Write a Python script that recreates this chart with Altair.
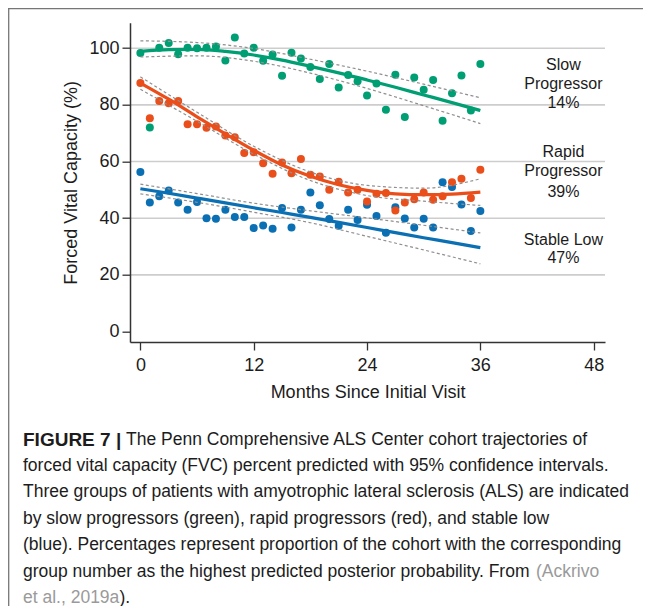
import altair as alt
import pandas as pd

# ---------------- data ----------------
months = list(range(37))
slow_fvc = [98.3, 72.0, 100.2, 101.8, 97.9, 100.2, 100.0, 100.2, 100.6, 95.7, 103.8, 98.1,
            100.2, 95.6, 97.8, 90.3, 98.4, 96.4, 93.4, 89.1, 94.4, 86.1, 90.5, 88.3, 83.3,
            87.5, 78.3, 90.6, 75.7, 89.7, 85.3, 88.8, 74.4, 84.1, 90.4, 78.0, 94.4]
rapid_fvc = [87.7, 75.3, 81.4, 80.6, 81.4, 73.2, 73.2, 71.9, 72.4, 69.2, 68.6, 63.0, 63.3,
             59.4, 55.7, 59.7, 55.9, 60.9, 55.3, 54.7, 50.0, 52.9, 49.1, 50.0, 45.9, 48.6,
             48.9, 42.7, 45.5, 46.7, 49.1, 46.5, 47.7, 52.7, 53.9, 47.1, 57.1]
stable_fvc = [56.3, 45.5, 47.7, 49.8, 45.5, 43.0, 45.7, 40.0, 39.8, 43.0, 40.4, 40.4, 36.5,
              37.4, 36.3, 43.6, 36.7, 43.0, 49.1, 44.6, 39.7, 37.3, 43.0, 39.4, 44.7, 40.8,
              34.9, 43.9, 39.9, 36.7, 39.8, 36.7, 52.7, 51.0, 44.8, 35.5, 42.5]

fit_months = [0, 3, 6, 9, 12, 15, 18, 21, 24, 27, 30, 33, 36]
slow_fit = [98.9, 99.5, 99.6, 98.9, 97.6, 95.8, 93.6, 91.3, 88.8, 86.2, 83.5, 80.8, 78.0]
rapid_fit = [87.7, 82.0, 75.8, 69.8, 64.0, 58.8, 54.8, 51.8, 49.8, 48.6, 48.3, 48.5, 49.2]
stable_fit = [50.4, 48.8, 47.1, 45.4, 43.7, 42.0, 40.3, 38.5, 36.7, 34.9, 33.1, 31.4, 29.6]

ci_months = [0, 6, 12, 18, 24, 30, 36]
slow_upper = [102.6, 102.0, 99.9, 96.1, 91.9, 87.3, 82.5]
slow_lower = [96.9, 97.3, 95.4, 91.2, 85.8, 79.7, 73.4]
rapid_upper = [89.9, 77.4, 65.4, 56.3, 51.6, 50.6, 53.9]
rapid_lower = [85.5, 74.2, 62.6, 53.3, 48.0, 46.0, 44.5]
stable_upper = [52.0, 48.7, 45.3, 42.6, 40.1, 37.5, 34.8]
stable_lower = [48.6, 45.6, 42.1, 38.4, 33.6, 28.8, 23.9]

group_names = ["Stable Low", "Rapid Progressor", "Slow Progressor"]
group_colors = ["#0A6FB3", "#E94E1B", "#009E73"]

x_ticks = [0, 12, 24, 36, 48]
y_ticks = [0, 20, 40, 60, 80, 100]
grid_values = [20, 40, 60, 80, 100]

label_lines = ["Slow", "Progressor", "14%", "Rapid", "Progressor", "39%", "Stable Low", "47%"]
label_values = [94.1, 87.5, 80.8, 63.5, 56.8, 49.4, 32.4, 25.9]
label_month = 44.8

caption_segments = [
    # (line index, text, page-x anchor, bold, grey, font size)
    (0, "FIGURE 7 |", 23, True, False, 19),
    (0, "The Penn Comprehensive ALS Center cohort trajectories of", 126, False, False, 17.5),
    (1, "forced vital capacity (FVC) percent predicted with 95% confidence intervals.", 23, False, False, 17.5),
    (2, "Three groups of patients with amyotrophic lateral sclerosis (ALS) are indicated", 23, False, False, 17.5),
    (3, "by slow progressors (green), rapid progressors (red), and stable low", 23, False, False, 17.5),
    (4, "(blue). Percentages represent proportion of the cohort with the corresponding", 23, False, False, 17.5),
    (5, "group number as the highest predicted posterior probability. From", 23, False, False, 17.5),
    (5, "(Ackrivo", 536, False, True, 17.5),
    (6, "et al., 2019a", 23, False, True, 17.5),
    (6, ").", 119.5, False, False, 17.5),
]

# ---------------- layout ----------------
PLOT_LEFT, PLOT_TOP = 130, 22.7          # page coordinates of plot area
W, H = 475, 319.3
SVG_W, SVG_H = 635, 598
PAD = {"left": PLOT_LEFT - 8, "top": PLOT_TOP - 8, "right": SVG_W - (PLOT_LEFT - 8) - W,
       "bottom": SVG_H - (PLOT_TOP - 8) - H}
FONT = "Liberation Sans"
TXT = "#1c1c1c"

# ---------------- tables ----------------
pts = pd.DataFrame({
    "month": months * 3,
    "value": stable_fvc + rapid_fvc + slow_fvc,
    "group": ["Stable Low"] * 37 + ["Rapid Progressor"] * 37 + ["Slow Progressor"] * 37,
    "grp_order": [0] * 37 + [1] * 37 + [2] * 37,
})
fits = pd.DataFrame({
    "month": fit_months * 3,
    "value": stable_fit + rapid_fit + slow_fit,
    "group": ["Stable Low"] * 13 + ["Rapid Progressor"] * 13 + ["Slow Progressor"] * 13,
})
ci_rows = []
for g, up, lo in [("Stable Low", stable_upper, stable_lower),
                  ("Rapid Progressor", rapid_upper, rapid_lower),
                  ("Slow Progressor", slow_upper, slow_lower)]:
    for m, u, l in zip(ci_months, up, lo):
        ci_rows.append({"month": m, "value": u, "series": g + " upper"})
        ci_rows.append({"month": m, "value": l, "series": g + " lower"})
ci = pd.DataFrame(ci_rows)
grid = pd.DataFrame({"value": grid_values})
labels = pd.DataFrame({"month": [label_month] * len(label_lines), "value": label_values,
                       "text": label_lines})
one_row = pd.DataFrame({"k": [0]})

# ---------------- encodings ----------------
x_enc = alt.X("month:Q",
              scale=alt.Scale(domain=[-1.1, 49.2], nice=False, zero=False),
              axis=alt.Axis(values=x_ticks, grid=False, title="Months Since Initial Visit",
                            domainColor="#333", domainWidth=1.5, tickColor="#333",
                            tickSize=8, tickWidth=1.3, labelFont=FONT, labelFontSize=18,
                            labelColor=TXT, labelPadding=15, labelBaseline="middle",
                            labelFlush=False, titleFont=FONT, titleFontSize=18,
                            titleFontWeight="normal", titleColor=TXT, titleY=50,
                            titleBaseline="middle", zindex=1))
y_enc = alt.Y("value:Q",
              scale=alt.Scale(domain=[-3.7, 109], nice=False, zero=False),
              axis=alt.Axis(values=y_ticks, grid=False, title="Forced Vital Capacity (%)",
                            domainColor="#333", domainWidth=1.5, tickColor="#333",
                            tickSize=8, tickWidth=1.3, labelFont=FONT, labelFontSize=18,
                            labelColor=TXT, labelPadding=3, labelFlush=False,
                            titleFont=FONT, titleFontSize=18, titleFontWeight="normal",
                            titleColor=TXT, titleX=-58.3, titleY=H / 2, titleAngle=-90,
                            titleAlign="center", titleBaseline="middle", zindex=1))
color_enc = alt.Color("group:N", scale=alt.Scale(domain=group_names, range=group_colors),
                      legend=None)

# figure frame: top and left edges only (the others run off the page)
frame_top = alt.Chart(one_row).mark_rule(color="#767676", strokeWidth=1.3).encode(
    x=alt.value(-PAD["left"]), x2=alt.value(W + PAD["right"]),
    y=alt.value(-PAD["top"] + 0.7))
frame_left = alt.Chart(one_row).mark_rule(color="#767676", strokeWidth=1.3).encode(
    x=alt.value(-PAD["left"] + 0.7), y=alt.value(-PAD["top"]),
    y2=alt.value(H + PAD["bottom"]))

grid_layer = alt.Chart(grid).mark_rule(color="#cdcdcd", strokeWidth=1.6).encode(y=y_enc)

points = alt.Chart(pts).mark_circle(size=64, opacity=1).encode(
    x=x_enc, y=y_enc, color=color_enc, order=alt.Order("grp_order:Q"))

ci_layer = alt.Chart(ci).mark_line(color="#8f8f8f", strokeWidth=1.2, strokeDash=[3, 2.5],
                                   interpolate="monotone").encode(
    x=x_enc, y=y_enc, detail="series:N")

fit_layer = alt.Chart(fits).mark_line(strokeWidth=3.2, interpolate="monotone").encode(
    x=x_enc, y=y_enc, color=color_enc)

label_layer = alt.Chart(labels).mark_text(font=FONT, fontSize=16, color=TXT,
                                          align="center", baseline="middle").encode(
    x=x_enc, y=y_enc, text="text:N")

cap_layers = []
for (i, t, px, bold, grey, fs) in caption_segments:
    cap_layers.append(
        alt.Chart(one_row).mark_text(
            text=t, font=FONT, fontSize=fs, align="left", baseline="middle",
            fontWeight="bold" if bold else "normal",
            color="#9a9a9a" if grey else TXT).encode(
            x=alt.value(px - PLOT_LEFT), y=alt.value(439.5 - PLOT_TOP + 26.4 * i)))

chart = alt.layer(frame_top, frame_left, grid_layer, points, ci_layer, fit_layer,
                  label_layer, *cap_layers).properties(
    width=W, height=H,
    autosize=alt.AutoSizeParams(type="none"),
    padding=PAD,
    background="white",
).configure_view(stroke="transparent")

chart.save("out.html", embed_options={"renderer": "svg", "actions": False})
